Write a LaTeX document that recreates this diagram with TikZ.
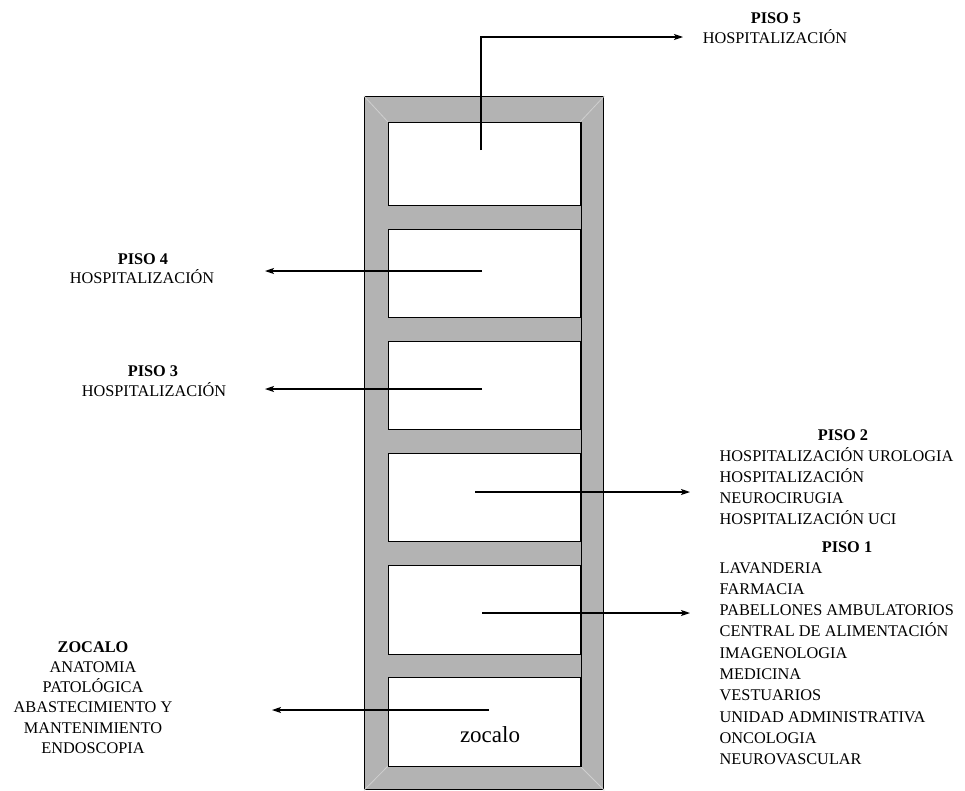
\documentclass[tikz,border=0pt]{standalone}
\usepackage{fontspec}
\setmainfont{Liberation Serif}
\usetikzlibrary{arrows.meta}
\definecolor{wallgray}{HTML}{B3B3B3}
\definecolor{bevelgray}{HTML}{CFCFCF}
\begin{document}
\begin{tikzpicture}[x=1pt,y=-1pt,
  wall/.style={fill=wallgray,draw=black,line width=1.3pt,inner sep=0pt,anchor=north west},
  room/.style={fill=white,draw=black,line width=1.3pt,inner sep=0pt,anchor=north west,minimum width=192pt},
  bevel/.style={draw=bevelgray,line width=0.8pt},
  lbl/.style={inner sep=0pt,anchor=base,font=\fontsize{16.3}{20}\selectfont},
  lbll/.style={lbl,anchor=base west},
  head/.style={lbl,font=\fontsize{16.3}{20}\selectfont\bfseries},
  conn/.style={line width=1.2pt,-{Stealth[length=9pt,width=6pt,inset=2pt]}}]
\useasboundingbox (0,0) rectangle (965,790);
\fill[white] (0,0) rectangle (965,790);

% building frame
\node (frame) [wall,minimum width=239pt,minimum height=693pt] at (364,96) {};
\draw[bevel] (frame.north west) -- (388,122);
\draw[bevel] (frame.north east) -- (580,122);
\draw[bevel] (frame.south west) -- (388,766);
\draw[bevel] (frame.south east) -- (580,766);

% floors
\node (r5) [room,minimum height=83pt] at (388,122) {};
\node (r4) [room,minimum height=88pt] at (388,229) {};
\node (r3) [room,minimum height=88pt] at (388,341) {};
\node (r2) [room,minimum height=88pt] at (388,453) {};
\node (r1) [room,minimum height=89pt] at (388,565) {};
\node (r0) [room,minimum height=89pt] at (388,677) {};
\draw[line width=1.3pt] (r5.north east) -- (r0.south east);
\node (zoc) [inner sep=0pt,anchor=base,font=\fontsize{23}{26}\selectfont] at (490,742) {zocalo};

% connector points
\coordinate (s5) at (481,150);
\coordinate (k5) at (481,37);
\coordinate (t5) at (683,37);
\coordinate (s4) at (482,271);
\coordinate (t4) at (265,271);
\coordinate (s3) at (482,389);
\coordinate (t3) at (265,389);
\coordinate (s2) at (475,492);
\coordinate (t2) at (690,492);
\coordinate (s1) at (482,613);
\coordinate (t1) at (690,613);
\coordinate (s0) at (489,710);
\coordinate (t0) at (272,710);

\draw[conn] (s5) -- (k5) -- (t5);
\draw[conn] (s4) -- (t4);
\draw[conn] (s3) -- (t3);
\draw[conn] (s2) -- (t2);
\draw[conn] (s1) -- (t1);
\draw[conn] (s0) -- (t0);

% PISO 5
\node (h5) [head] at (776,23) {PISO 5};
\node (l5) [lbl] at (775,43) {HOSPITALIZACIÓN};
% PISO 4
\node (h4) [head] at (143,264) {PISO 4};
\node (l4) [lbl] at (142,283) {HOSPITALIZACIÓN};
% PISO 3
\node (h3) [head] at (153,376) {PISO 3};
\node (l3) [lbl] at (154,396) {HOSPITALIZACIÓN};
% PISO 2
\node (h2) [head] at (843,440) {PISO 2};
\foreach \t [count=\i] in {HOSPITALIZACIÓN UROLOGIA,HOSPITALIZACIÓN,NEUROCIRUGIA,HOSPITALIZACIÓN UCI}
  \node (p2l\i) [lbll] at (719.5,{440+21*\i}) {\t};
% PISO 1
\node (h1) [head] at (847,552) {PISO 1};
\foreach \t [count=\i] in {LAVANDERIA,FARMACIA,PABELLONES AMBULATORIOS,CENTRAL DE ALIMENTACIÓN,IMAGENOLOGIA,MEDICINA,VESTUARIOS,UNIDAD ADMINISTRATIVA,ONCOLOGIA,NEUROVASCULAR}
  \node (p1l\i) [lbll] at (719.5,{551.7+21.3*\i}) {\t};
% ZOCALO
\node (h0) [head] at (93,652) {ZOCALO};
\foreach \t [count=\i] in {ANATOMIA,PATOLÓGICA,ABASTECIMIENTO Y,MANTENIMIENTO,ENDOSCOPIA}
  \node (z\i) [lbl] at (93,{652+20.3*\i}) {\t};
\end{tikzpicture}
\end{document}
